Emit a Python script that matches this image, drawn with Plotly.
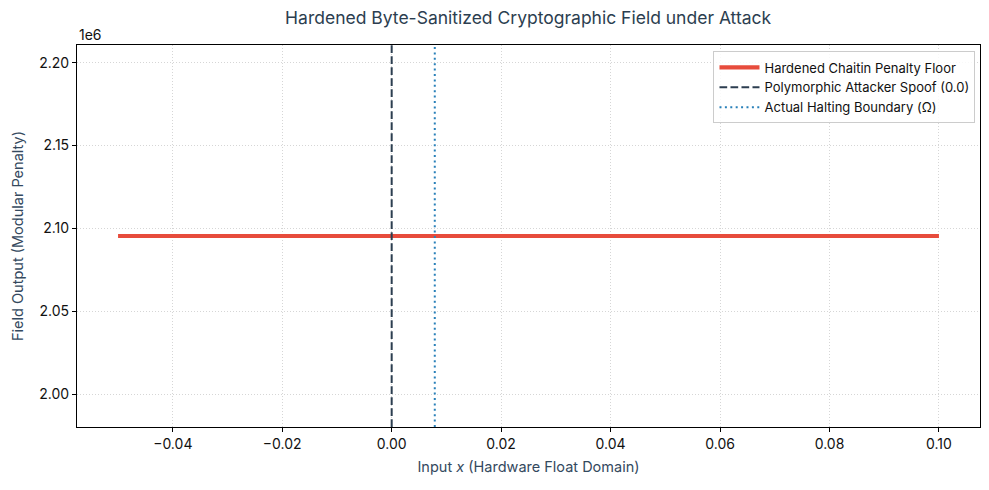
import plotly.graph_objects as go

# data
x_domain = [-0.05, 0.10]
penalty_floor = [2095400, 2095400]
spoof_x = 0.0
omega_x = 0.0078749969978

x_ticks = [-0.04, -0.02, 0.0, 0.02, 0.04, 0.06, 0.08, 0.10]
x_tick_text = ["\u22120.04", "\u22120.02", "0.00", "0.02", "0.04", "0.06", "0.08", "0.10"]
y_ticks = [2.00e6, 2.05e6, 2.10e6, 2.15e6, 2.20e6]
y_tick_text = ["2.00", "2.05", "2.10", "2.15", "2.20"]

FONT = "Inter"

# matplotlib-style autoscale for a flat line (5% expand, then 5% margin)
v = penalty_floor[0]
y_lo, y_hi = v * 0.95, v * 1.05
pad = (y_hi - y_lo) * 0.05
y_range = [y_lo - pad, y_hi + pad]
x_pad = (x_domain[1] - x_domain[0]) * 0.05
x_range = [x_domain[0] - x_pad, x_domain[1] + x_pad]

fig = go.Figure()
fig.add_trace(go.Scatter(
    x=x_domain, y=penalty_floor, mode="lines",
    name="Hardened Chaitin Penalty Floor",
    line=dict(color="#e74c3c", width=4.2),
))
fig.add_trace(go.Scatter(
    x=[spoof_x, spoof_x], y=y_range, mode="lines",
    name="Polymorphic Attacker Spoof (0.0)",
    line=dict(color="#2c3e50", width=2, dash="7.7px,3.3px"),
))
fig.add_trace(go.Scatter(
    x=[omega_x, omega_x], y=y_range, mode="lines",
    name="Actual Halting Boundary (\u03a9)",
    line=dict(color="#2980b9", width=2, dash="2px,3.4px"),
))

axis_common = dict(
    showline=True, linecolor="black", linewidth=1.2, mirror=True,
    ticks="outside", ticklen=4, tickcolor="black",
    showgrid=True, gridcolor="#d6d6d6", griddash="1px,2px", gridwidth=0.8,
    zeroline=False, automargin=False,
    tickfont=dict(family=FONT, size=14, color="#111111"),
)

fig.update_xaxes(
    range=x_range, tickvals=x_ticks, ticktext=x_tick_text,
    title=dict(text="Input <i>x</i> (Hardware Float Domain)",
               font=dict(family=FONT, size=14.5, color="#34495e"), standoff=10),
    **axis_common,
)
fig.update_yaxes(
    range=y_range, tickvals=y_ticks, ticktext=y_tick_text,
    title=dict(text="Field Output (Modular Penalty)",
               font=dict(family=FONT, size=14.5, color="#34495e"), standoff=12),
    **axis_common,
)

fig.add_annotation(
    text="1e6", xref="paper", yref="paper", x=0, y=1,
    xanchor="left", yanchor="bottom", showarrow=False, yshift=0,
    font=dict(family=FONT, size=14, color="#111111"),
)

fig.update_layout(
    width=989, height=490,
    margin=dict(l=77, r=9, t=45, b=63),
    paper_bgcolor="white", plot_bgcolor="white",
    title=dict(text="Hardened Byte-Sanitized Cryptographic Field under Attack",
               x=0.534, xanchor="center", y=0.963, yanchor="middle",
               font=dict(family=FONT, size=17.5, color="#2c3e50")),
    legend=dict(x=0.995, y=0.983, xanchor="right", yanchor="top",
                bgcolor="rgba(255,255,255,0.85)", bordercolor="#cccccc", borderwidth=1,
                font=dict(family=FONT, size=13, color="#111111"),
                itemwidth=40, tracegroupgap=0),
    showlegend=True,
)

# drop the default 8px body margin so the figure sits at the window origin
fig.write_html("out.html", config={"displayModeBar": False},
               post_script="document.body.style.margin='0';")
